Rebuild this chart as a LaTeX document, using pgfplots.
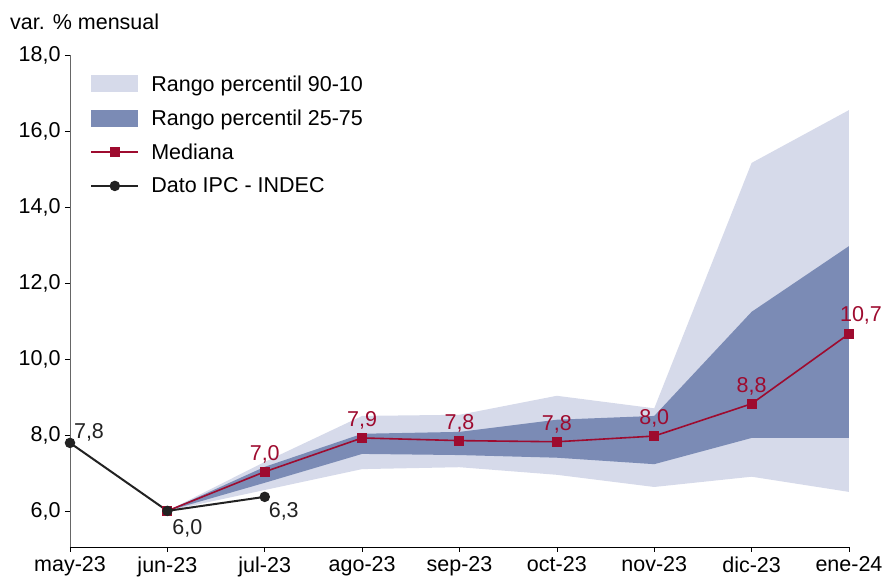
\documentclass[border=0pt]{standalone}
\usepackage{fontspec}
\setmainfont{Liberation Sans}
\usepackage{pgfplots}
\pgfplotsset{compat=1.18}
\definecolor{lightband}{HTML}{D6DAEA}
\definecolor{darkband}{HTML}{7B8BB5}
\definecolor{med}{HTML}{9E0B2F}
\definecolor{ipc}{HTML}{222222}
\newcommand{\ff}{\fontsize{21.5}{24}\selectfont}
\pgfplotsset{
  boxlegend/.style={legend image code/.code={\fill[##1] (0pt,-8.5pt) rectangle (47pt,8.5pt);}},
  linelegend/.style={legend image code/.code={\draw[##1, mark repeat=2, mark phase=2] plot coordinates {(0pt,0pt) (23.5pt,0pt) (47pt,0pt)};}},
}
\begin{document}
\begin{tikzpicture}
\begin{axis}[
  at={(0pt,0pt)}, anchor=south west,
  scale only axis, width=779pt, height=492pt,
  xmin=0, xmax=8, ymin=5.05, ymax=18,
  axis lines*=left,
  x axis line style={black, line width=0.8pt},
  y axis line style={gray!80!black, line width=0.8pt},
  xtick={0,...,8},
  xticklabels={may-23,jun-23,jul-23,ago-23,sep-23,oct-23,nov-23,dic-23,ene-24},
  ytick={6,8,...,18},
  tick align=outside, tick pos=left, major tick length=5pt,
  tick style={black, line width=0.6pt},
  yticklabel style={xshift=-1pt, /pgf/number format/.cd,fixed,fixed zerofill,precision=1,use comma},
  /pgf/number format/assume math mode=true,
  ticklabel style={font=\ff, text=black},
  xticklabel style={yshift=-1pt},
  clip=false,
  legend cell align=left,
  legend style={draw=none, fill=none, at={(0.022,0.967)}, anchor=north west,
    font=\ff, row sep=13pt, nodes={inner sep=2pt},
    /tikz/every odd column/.style={column sep=10pt}},
]
\addplot[fill=lightband, draw=none, boxlegend]
  coordinates {(1,6.0) (2,7.29) (3,8.5) (4,8.53) (5,9.03) (6,8.7) (7,15.16) (8,16.55)
               (8,6.5) (7,6.9) (6,6.63) (5,6.95) (4,7.15) (3,7.1) (2,6.55) (1,6.0)} --cycle;
\addlegendentry{Rango percentil 90-10}
\addplot[fill=darkband, draw=none, boxlegend]
  coordinates {(1,6.0) (2,7.16) (3,8.03) (4,8.08) (5,8.4) (6,8.5) (7,11.24) (8,12.97)
               (8,7.92) (7,7.92) (6,7.23) (5,7.4) (4,7.47) (3,7.5) (2,6.74) (1,6.0)} --cycle;
\addlegendentry{Rango percentil 25-75}
\addplot[med, line width=1.6pt, mark=square*, mark size=4.2pt, linelegend]
  coordinates {(1,6.0) (2,7.03) (3,7.92) (4,7.85) (5,7.82) (6,7.97) (7,8.82) (8,10.66)};
\addlegendentry{Mediana}
\addplot[ipc, line width=2pt, mark=*, mark size=4.2pt, linelegend]
  coordinates {(0,7.79) (1,6.0) (2,6.37)};
\addlegendentry{Dato IPC - INDEC}
% median labels
\node[med, font=\ff, anchor=south, yshift=5pt] at (axis cs:2,7.03) {7,0};
\node[med, font=\ff, anchor=south, yshift=5pt] at (axis cs:3,7.92) {7,9};
\node[med, font=\ff, anchor=south, yshift=5pt] at (axis cs:4,7.85) {7,8};
\node[med, font=\ff, anchor=south, yshift=5pt] at (axis cs:5,7.82) {7,8};
\node[med, font=\ff, anchor=south, yshift=5pt] at (axis cs:6,7.97) {8,0};
\node[med, font=\ff, anchor=south, yshift=5pt] at (axis cs:7,8.82) {8,8};
\node[med, font=\ff, anchor=south, xshift=12pt, yshift=6pt] at (axis cs:8,10.66) {10,7};
% IPC labels
\node[ipc, font=\ff] at ([xshift=19pt,yshift=11pt]axis cs:0,7.79) {7,8};
\node[ipc, font=\ff] at ([xshift=20pt,yshift=-17pt]axis cs:1,6.0) {6,0};
\node[ipc, font=\ff] at ([xshift=19pt,yshift=-15pt]axis cs:2,6.37) {6,3};
% title
\node[anchor=west, font=\ff, inner sep=0pt] at ([xshift=-60pt,yshift=33pt]rel axis cs:0,1) {var. \% mensual};
\end{axis}
\path (-70pt,-32pt) rectangle (817pt,547pt);
\end{tikzpicture}
\end{document}
